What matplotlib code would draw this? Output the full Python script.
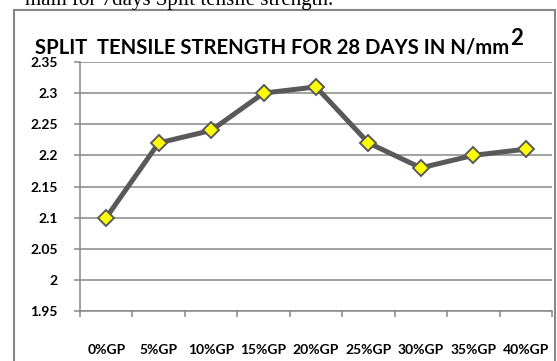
import matplotlib
matplotlib.use("Agg")
import matplotlib.pyplot as plt
from matplotlib.patches import Rectangle
import numpy as np

categories = ["0%GP", "5%GP", "10%GP", "15%GP", "20%GP", "25%GP", "30%GP", "35%GP", "40%GP"]
strength = [2.10, 2.22, 2.24, 2.30, 2.31, 2.22, 2.18, 2.20, 2.21]
yticks = [1.95, 2.0, 2.05, 2.1, 2.15, 2.2, 2.25, 2.3, 2.35]
ytick_labels = ["1.95", "2", "2.05", "2.1", "2.15", "2.2", "2.25", "2.3", "2.35"]

W, H = 557, 361
gray = "#878787"
line_gray = "#595959"

fig = plt.figure(figsize=(W / 100, H / 100), dpi=100)
ax = fig.add_axes([80 / W, 1 - 311 / H, (552 - 80) / W, (311 - 62) / H])

x = np.arange(len(categories))
ax.plot(x, strength, color=line_gray, lw=3.6, marker="D", ms=8.5,
        mfc="#FFFF00", mec=line_gray, mew=1.4, zorder=3, clip_on=False)

ax.set_xlim(-0.5, len(categories) - 0.5)
ax.set_ylim(1.95, 2.35)
ax.set_yticks(yticks)
ax.set_yticklabels(ytick_labels)
ax.yaxis.grid(True, color=gray, lw=1.1)
ax.set_axisbelow(True)

# ticks on category borders, labels in the middle
ax.set_xticks(np.arange(len(categories) + 1) - 0.5)
ax.set_xticklabels([])
ax.set_xticks(x, minor=True)
ax.set_xticklabels(categories, minor=True)
ax.tick_params(axis="x", which="major", length=4, width=1.1, color=gray)
ax.tick_params(axis="x", which="minor", length=0, pad=24)
ax.tick_params(axis="y", length=4, width=1.1, color=gray, pad=12)

for lab in ax.get_xticklabels(minor=True) + ax.get_yticklabels():
    lab.set_fontfamily("Lato")
    lab.set_fontweight("bold")
    lab.set_fontsize(10)

for s in ["top", "right"]:
    ax.spines[s].set_visible(False)
for s in ["left", "bottom"]:
    ax.spines[s].set_color(gray)
    ax.spines[s].set_linewidth(1.1)

# chart frame, runs past the bottom edge
fig.patches.append(Rectangle((14 / W, -0.05), (555 - 14) / W, 1.05 - 10 / H,
                             transform=fig.transFigure, fill=False,
                             ec=gray, lw=1.5))

# bit of document text cut off above the chart
fig.text(25 / W, 1 - 5 / H, "main for 7days Split tensile strength.",
         family="Liberation Serif", fontsize=15, va="baseline", ha="left")

title = fig.text(35 / W, 1 - 53 / H, "SPLIT  TENSILE STRENGTH FOR 28 DAYS IN N/mm",
                 family="Lato", fontweight="bold", fontsize=14.6,
                 va="baseline", ha="left")
fig.canvas.draw()
bb = title.get_window_extent()
fig.text((bb.x1 + 1) / W, 1 - 45 / H, "2", family="Lato", fontweight="bold",
         fontsize=16, va="baseline", ha="left")

fig.savefig("out.png", dpi=100)
